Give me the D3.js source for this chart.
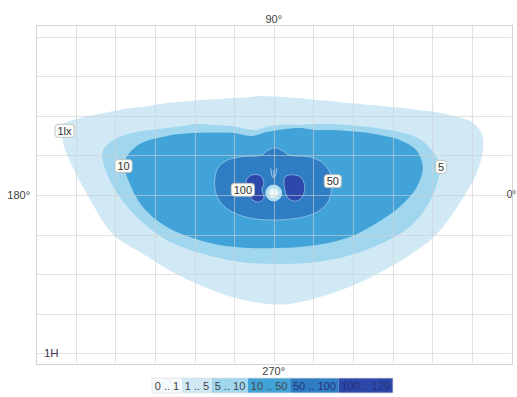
<!DOCTYPE html>
<html>
<head>
<meta charset="utf-8">
<script src="https://cdn.jsdelivr.net/npm/d3@7"></script>
<style>
  html, body { margin: 0; padding: 0; background: #fff; }
  svg { display: block; font-family: "Liberation Sans", Arial, sans-serif; }
</style>
</head>
<body>
<svg id="chart" width="517" height="397"></svg>
<script>
// Isolux diagram: illuminance bands around the luminaire, one grid cell = 1 unit

// Band boundaries, outer to inner [u, v] in grid units
const contour1 = [
  [-5.30, 1.79], [-4.90, 1.94], [-4.39, 2.05], [-3.95, 2.14], [-3.56, 2.20], [-3.13, 2.25],
  [-2.70, 2.32], [-2.25, 2.36], [-1.87, 2.40], [-1.45, 2.42], [-1.04, 2.45], [-0.70, 2.46],
  [-0.35, 2.50], [0.28, 2.47], [0.70, 2.44], [1.09, 2.40], [1.50, 2.37], [1.92, 2.32],
  [2.35, 2.28], [2.75, 2.25], [3.20, 2.20], [3.61, 2.15], [4.05, 2.10], [4.44, 2.02],
  [5.00, 1.84], [5.25, 1.54], [5.28, 1.14], [5.13, 0.58], [4.82, 0.00], [4.12, -0.98],
  [3.43, -1.52], [2.60, -2.00], [1.92, -2.32], [1.09, -2.60], [0.40, -2.75], [-0.18, -2.75],
  [-1.04, -2.58], [-1.87, -2.27], [-2.45, -2.00], [-3.38, -1.44], [-4.07, -0.98],
  [-4.70, 0.00], [-5.10, 0.76], [-5.30, 1.26], [-5.33, 1.59]
];
const contour5 = [
  [-4.32, 1.09], [-4.09, 1.36], [-3.56, 1.57], [-3.10, 1.64], [-2.70, 1.69], [-2.25, 1.75],
  [-1.87, 1.79], [-1.45, 1.76], [-1.04, 1.74], [-0.48, 1.64], [-0.10, 1.74], [0.30, 1.78],
  [0.66, 1.77], [1.05, 1.80], [1.49, 1.79], [1.95, 1.76], [2.35, 1.72], [2.80, 1.66],
  [3.18, 1.59], [3.69, 1.41], [4.02, 1.09], [4.19, 0.71], [4.09, 0.20], [3.86, -0.30],
  [3.43, -0.81], [2.75, -1.21], [1.92, -1.52], [1.09, -1.69], [0.08, -1.74], [-0.86, -1.69],
  [-1.87, -1.46], [-2.70, -1.14], [-3.38, -0.63], [-3.89, -0.05], [-4.22, 0.56]
];
const contour10 = [
  [-3.71, 0.96], [-3.38, 1.29], [-2.70, 1.49], [-2.25, 1.55], [-1.87, 1.57], [-1.45, 1.58],
  [-1.04, 1.57], [-0.56, 1.49], [-0.18, 1.59], [0.25, 1.66], [0.66, 1.69], [1.05, 1.64],
  [1.49, 1.64], [1.95, 1.61], [2.35, 1.57], [2.80, 1.49], [3.18, 1.39], [3.59, 1.14],
  [3.76, 0.71], [3.61, 0.20], [3.18, -0.30], [2.60, -0.71], [1.92, -1.06], [1.09, -1.26],
  [0.08, -1.34], [-1.04, -1.31], [-1.87, -1.14], [-2.70, -0.81], [-3.31, -0.30],
  [-3.64, 0.30], [-3.76, 0.68]
];
const contour50 = [
  [-1.49, 0.38], [-1.41, 0.68], [-1.21, 0.86], [-0.86, 0.96], [-0.30, 1.01], [-0.18, 1.11],
  [0.03, 1.19], [0.23, 1.11], [0.38, 1.01], [0.91, 0.96], [1.21, 0.83], [1.41, 0.58],
  [1.46, 0.25], [1.41, -0.08], [1.24, -0.33], [0.91, -0.51], [0.40, -0.61], [-0.10, -0.63],
  [-0.61, -0.58], [-1.04, -0.43], [-1.31, -0.23], [-1.46, 0.05]
];
const contour100Left = [
  [-0.68, 0.40], [-0.53, 0.51], [-0.33, 0.48], [-0.25, 0.30], [-0.30, 0.13],
  [-0.25, -0.08], [-0.40, -0.18], [-0.58, -0.08], [-0.68, 0.15]
];
const contour100Right = [
  [0.28, 0.45], [0.48, 0.51], [0.68, 0.45], [0.78, 0.23], [0.73, -0.03],
  [0.58, -0.15], [0.38, -0.10], [0.28, 0.13]
];

// Legend classes and contour labels
const bandLabels = ["0 .. 1", "1 .. 5", "5 .. 10", "10 .. 50", "50 .. 100", "100 .. 129"];
const bandColors = ["#f6f9fb", "#d0e9f5", "#a1d6ef", "#42a3d8", "#2f7dc3", "#2c48aa"];
const contourLabels = [
  { text: "1lx", u: -5.28, v: 1.62 },
  { text: "10", u: -3.79, v: 0.73 },
  { text: "5", u: 4.22, v: 0.71 },
  { text: "50", u: 1.49, v: 0.35 },
  { text: "100", u: -0.78, v: 0.13 }
];
const gridU = d3.range(-6, 7);
const gridV = d3.range(-4, 5);
const angleLabels = [
  { text: "90°", u: 0, v: 4.45, anchor: "middle" },
  { text: "270°", u: 0, v: -4.45, anchor: "middle" },
  { text: "180°", u: -6.15, v: 0, anchor: "end" },
  { text: "0°", u: 6.12, v: 0, anchor: "end" }
];

const svg = d3.select("#chart");
const x = d3.scaleLinear().domain([-6, 6]).range([36, 511.5]);
const y = d3.scaleLinear().domain([-4.25, 4.3]).range([363.3, 24.7]);

const area = d3.line()
  .x(d => x(d[0]))
  .y(d => y(d[1]))
  .curve(d3.curveCatmullRomClosed.alpha(0.5));

// filled bands
const bands = [
  { pts: contour1, fill: bandColors[1] },
  { pts: contour5, fill: bandColors[2] },
  { pts: contour10, fill: bandColors[3] },
  { pts: contour50, fill: bandColors[4], edge: true },
  { pts: contour100Left, fill: bandColors[5], edge: true },
  { pts: contour100Right, fill: bandColors[5], edge: true }
];
svg.append("g").selectAll("path").data(bands).join("path")
  .attr("d", d => area(d.pts))
  .attr("fill", d => d.fill)
  .attr("stroke", d => d.edge ? "rgba(190,225,245,0.55)" : "none")
  .attr("stroke-width", 1);

// bright spot under the luminaire
const defs = svg.append("defs");
const grad = defs.append("radialGradient").attr("id", "glow");
grad.append("stop").attr("offset", "0%").attr("stop-color", "#ffffff");
grad.append("stop").attr("offset", "45%").attr("stop-color", "#e6f6fb");
grad.append("stop").attr("offset", "100%").attr("stop-color", "#8fd0ec");
svg.append("circle")
  .attr("cx", x(0)).attr("cy", y(0.05))
  .attr("r", x(0.2) - x(0))
  .attr("fill", "url(#glow)")
  .attr("stroke", "rgba(220,240,250,0.8)")
  .attr("stroke-width", 1);

// luminaire marker
const mx = x(0), my = y(0.55);
svg.append("path")
  .attr("d", `M${mx - 3},${my - 5} L${mx - 2},${my + 2} L${mx},${my + 5} L${mx + 2},${my + 2} L${mx + 3},${my - 5}`)
  .attr("fill", "none")
  .attr("stroke", "rgba(200,230,248,0.7)")
  .attr("stroke-width", 1);
svg.append("line")
  .attr("x1", mx).attr("x2", mx).attr("y1", my - 3).attr("y2", my + 3)
  .attr("stroke", "rgba(200,230,248,0.7)");

// grid
const grid = svg.append("g").attr("stroke", "#cfcfcf").attr("stroke-opacity", 0.6).attr("stroke-width", 1);
grid.selectAll(".gu").data(gridU).join("line")
  .attr("x1", d => Math.round(x(d)) + 0.5).attr("x2", d => Math.round(x(d)) + 0.5)
  .attr("y1", y.range()[1]).attr("y2", y.range()[0]);
grid.selectAll(".gv").data(gridV).join("line")
  .attr("y1", d => Math.round(y(d)) + 0.5).attr("y2", d => Math.round(y(d)) + 0.5)
  .attr("x1", x.range()[0]).attr("x2", x.range()[1]);
svg.append("rect")
  .attr("x", Math.round(x.range()[0]) + 0.5).attr("y", Math.round(y.range()[1]) + 0.5)
  .attr("width", Math.round(x.range()[1] - x.range()[0]))
  .attr("height", Math.round(y.range()[0] - y.range()[1]))
  .attr("fill", "none").attr("stroke", "#d4d4d4");

// angle labels
svg.append("g").selectAll("text").data(angleLabels).join("text")
  .attr("x", d => x(d.u)).attr("y", d => y(d.v))
  .attr("text-anchor", d => d.anchor)
  .attr("dominant-baseline", "central")
  .attr("font-size", d => d.text === "0°" ? 10 : 11).attr("fill", "#444")
  .text(d => d.text);

svg.append("text")
  .attr("x", x(-5.8)).attr("y", y(-4.0))
  .attr("dominant-baseline", "central")
  .attr("font-size", 11.5).attr("fill", "#3a3550")
  .text("1H");

// contour value tags
const tags = svg.append("g").selectAll("g").data(contourLabels).join("g")
  .attr("transform", d => `translate(${x(d.u)},${y(d.v)})`);
tags.append("text")
  .attr("text-anchor", "middle").attr("dominant-baseline", "central")
  .attr("font-size", 11).attr("fill", "#333")
  .text(d => d.text)
  .each(function (d) {
    const w = this.getComputedTextLength();
    d3.select(this.parentNode).insert("rect", "text")
      .attr("x", -w / 2 - 2.5).attr("y", -6.5)
      .attr("width", w + 5).attr("height", 13)
      .attr("rx", 3)
      .attr("fill", "#fbfbf7").attr("stroke", "#b9b9b9").attr("stroke-width", 0.8);
  });

// legend strip
const legend = svg.append("g");
const lt = legend.selectAll("text").data(bandLabels).join("text")
  .attr("font-size", 11).attr("dominant-baseline", "central")
  .attr("fill", (d, i) => i >= 4 ? "#26327a" : "#444")
  .text(d => d);
const widths = [];
lt.each(function () { widths.push(this.getComputedTextLength() + 5.5); });
const total = d3.sum(widths);
let cx = 272.5 - total / 2;
const starts = widths.map(w => { const s = cx; cx += w; return s; });
legend.selectAll("rect").data(bandLabels).join("rect")
  .attr("x", (d, i) => starts[i]).attr("y", 378)
  .attr("width", (d, i) => widths[i]).attr("height", 15)
  .attr("fill", (d, i) => bandColors[i]);
legend.append("rect")
  .attr("x", starts[0]).attr("y", 378).attr("width", total).attr("height", 15)
  .attr("fill", "none").attr("stroke", "#e2e2e2").attr("stroke-width", 0.8);
lt.raise()
  .attr("x", (d, i) => starts[i] + widths[i] / 2)
  .attr("text-anchor", "middle")
  .attr("y", 385.5);
</script>
</body>
</html>
